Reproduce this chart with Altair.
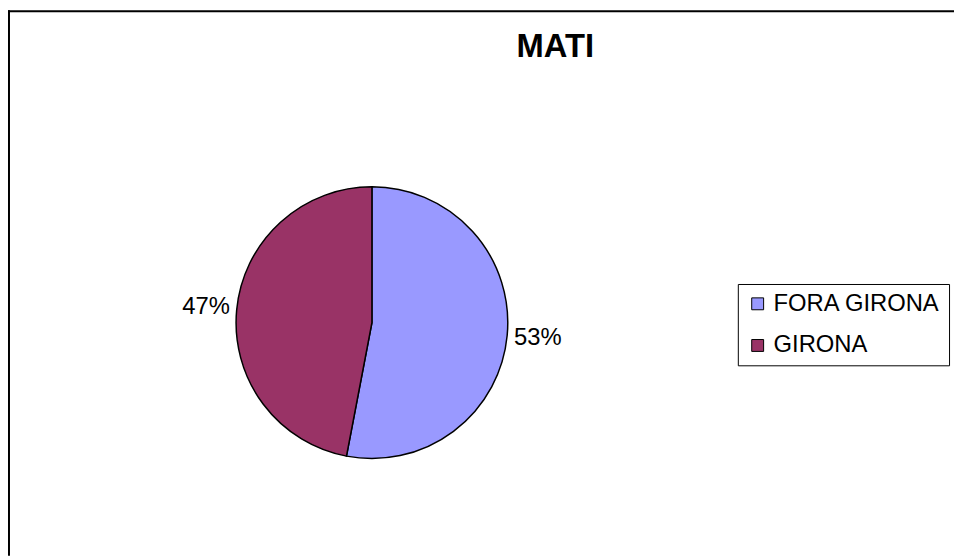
import altair as alt
import pandas as pd

categories = ["FORA GIRONA", "GIRONA"]
values = [53, 47]
labels = ["53%", "47%"]
colors = ["#9999FF", "#993366"]
title_text = "MATI"

df = pd.DataFrame({"cat": categories, "value": values, "label": labels, "order": [0, 1]})

W, H = 954, 550
CX, CY = 367, 315
FONT = "Liberation Sans"

color = alt.Color(
    "cat:N",
    scale=alt.Scale(domain=categories, range=colors),
    legend=alt.Legend(
        orient="none", legendX=736, legendY=276, title=None,
        strokeColor="black", fillColor="white", padding=8,
        symbolType="square", symbolSize=144, symbolStrokeColor="black",
        symbolStrokeWidth=1, labelFontSize=24, labelFont=FONT,
        labelColor="black", rowPadding=18, labelOffset=4, labelLimit=400,
    ),
)

base = alt.Chart(df).encode(
    theta=alt.Theta("value:Q", stack=True),
    order=alt.Order("order:Q"),
)

pie = base.mark_arc(outerRadius=137, stroke="black", strokeWidth=1.5).encode(
    color=color, x=alt.value(CX), y=alt.value(CY)
)

text = base.mark_text(radius=168, fontSize=24, font=FONT, color="black").encode(
    text="label:N", x=alt.value(CX), y=alt.value(CY)
)

title = alt.Chart(pd.DataFrame({"t": [title_text]})).mark_text(
    fontSize=33, fontWeight="bold", font=FONT, color="black"
).encode(text="t:N", x=alt.value(552), y=alt.value(37))

one = pd.DataFrame({"a": [0]})
top_rule = alt.Chart(one).mark_rule(color="black", strokeWidth=2).encode(
    x=alt.value(0), x2=alt.value(W), y=alt.value(1)
)
left_rule = alt.Chart(one).mark_rule(color="black", strokeWidth=2).encode(
    x=alt.value(1), y=alt.value(0), y2=alt.value(H)
)

chart = alt.layer(pie, text, title, top_rule, left_rule).properties(
    width=W, height=H, autosize="none", padding=0
).configure_view(stroke=None)

chart.save("out.html", embed_options={"renderer": "svg", "actions": False})
